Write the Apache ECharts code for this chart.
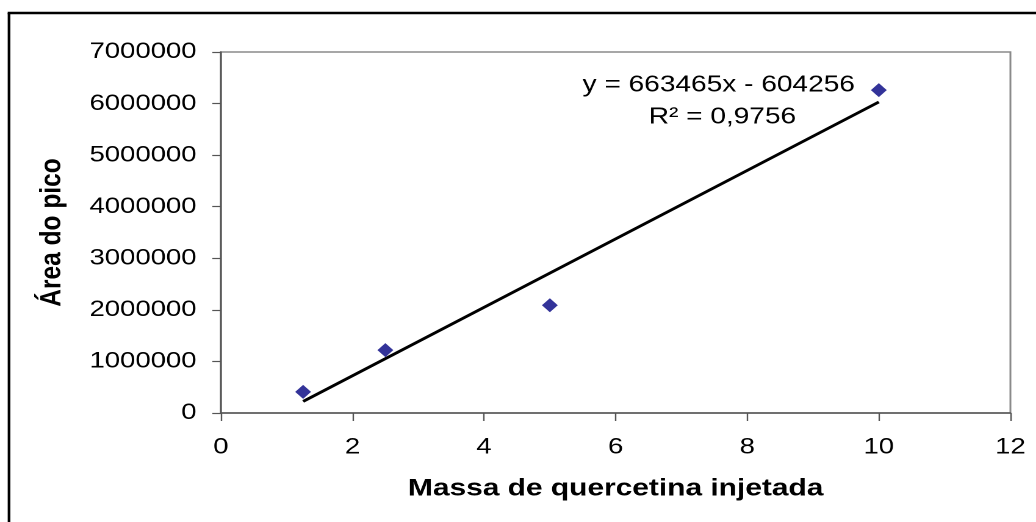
<!DOCTYPE html>
<html>
<head>
<meta charset="utf-8">
<script src="https://cdn.jsdelivr.net/npm/echarts@6/dist/echarts.min.js"></script>
<style>
html,body{margin:0;padding:0;background:#fff;overflow:hidden;width:1036px;height:522px;}
#c{width:849px;height:522px;transform:scaleX(1.2203);transform-origin:0 0;}
</style>
</head>
<body>
<div id="c"></div>
<script>
// Data
const massValues = [1.25, 2.5, 5, 10];
const areaValues = [410000, 1220000, 2090000, 6260000];
const xTicks = { min: 0, max: 12, interval: 2 };
const yTicks = { min: 0, max: 7000000, interval: 1000000 };
const trendSlope = 663465;
const trendIntercept = -604256;
const equationText = 'y = 663465x - 604256';
const r2Text = 'R² = 0,9756';
const xTitle = 'Massa de quercetina injetada';
const yTitle = 'Área do pico';

const points = massValues.map((x, i) => [x, areaValues[i]]);
const xMin = Math.min(...massValues), xMax = Math.max(...massValues);
const trend = [[xMin, trendSlope * xMin + trendIntercept], [xMax, trendSlope * xMax + trendIntercept]];

const FONT = "'Liberation Sans', Arial, sans-serif";
const chart = echarts.init(document.getElementById('c'), null, { renderer: 'canvas', devicePixelRatio: 2 });
chart.setOption({
  backgroundColor: '#fff',
  animation: false,
  grid: { left: 181, right: 21, top: 52, bottom: 109, show: true, borderColor: '#8a8a8a', borderWidth: 1.5, backgroundColor: 'transparent' },
  xAxis: {
    type: 'value', min: xTicks.min, max: xTicks.max, interval: xTicks.interval,
    name: xTitle, nameLocation: 'middle', nameGap: 63,
    nameTextStyle: { fontFamily: FONT, fontSize: 24.5, fontWeight: 'bold', color: '#000' },
    axisLine: { show: true, lineStyle: { color: '#555', width: 1.5 } },
    axisTick: { show: true, length: 8, lineStyle: { color: '#555', width: 1.2 } },
    axisLabel: { fontFamily: FONT, fontSize: 22.5, color: '#000', margin: 23, formatter: v => String(v) },
    splitLine: { show: false }
  },
  yAxis: {
    type: 'value', min: yTicks.min, max: yTicks.max, interval: yTicks.interval,
    name: yTitle, nameLocation: 'middle', nameGap: 126, nameRotate: 90,
    nameTextStyle: { fontFamily: FONT, fontSize: 24.5, fontWeight: 'bold', color: '#000' },
    axisLine: { show: true, lineStyle: { color: '#555', width: 1.5 } },
    axisTick: { show: true, length: 7, lineStyle: { color: '#555', width: 1.2 } },
    axisLabel: { fontFamily: FONT, fontSize: 22.5, color: '#000', margin: 20, formatter: v => String(v) },
    splitLine: { show: false }
  },
  series: [
    {
      type: 'line', data: trend, symbol: 'none', silent: true,
      lineStyle: { color: '#000', width: 2.8 }, z: 2
    },
    {
      type: 'scatter', data: points, symbol: 'diamond', symbolSize: [13, 14],
      itemStyle: { color: '#000080' }, z: 3
    }
  ],
  graphic: [
    { type: 'line', shape: { x1: 7.4, y1: 13, x2: 7.4, y2: 530 }, style: { stroke: '#000', lineWidth: 2.2 } },
    { type: 'line', shape: { x1: 6.3, y1: 13, x2: 860, y2: 13 }, style: { stroke: '#000', lineWidth: 2.6 } },
    { type: 'text', x: 589, y: 85, style: { text: equationText, font: '23px ' + FONT, fill: '#000', align: 'center', verticalAlign: 'middle' } },
    { type: 'text', x: 592, y: 117, style: { text: r2Text, font: '23px ' + FONT, fill: '#000', align: 'center', verticalAlign: 'middle' } }
  ]
});
</script>
</body>
</html>
